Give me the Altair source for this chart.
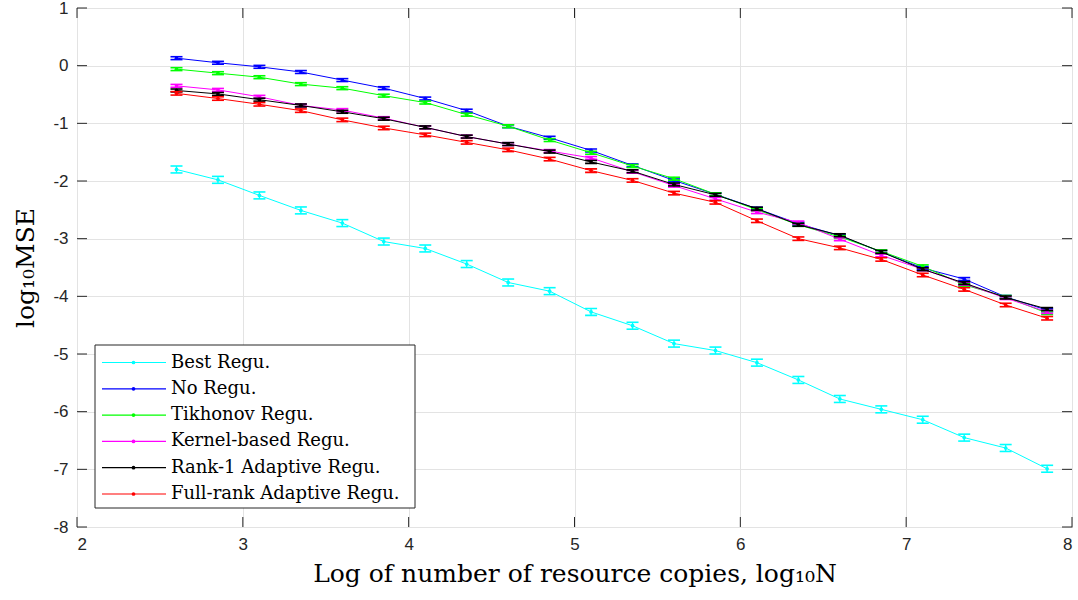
import altair as alt
import pandas as pd

# ---------------- data ----------------
x_vals = [2.6, 2.85, 3.1, 3.35, 3.6, 3.85, 4.1, 4.35, 4.6, 4.85, 5.1,
          5.35, 5.6, 5.85, 6.1, 6.35, 6.6, 6.85, 7.1, 7.35, 7.6, 7.85]

best_regu = [-1.80, -1.98, -2.25, -2.51, -2.73, -3.05, -3.17, -3.44, -3.76, -3.91, -4.27,
             -4.51, -4.82, -4.94, -5.15, -5.45, -5.78, -5.96, -6.14, -6.45, -6.63, -6.99]
no_regu = [0.13, 0.05, -0.02, -0.11, -0.25, -0.39, -0.57, -0.78, -1.05, -1.25, -1.47,
           -1.73, -1.99, -2.23, -2.48, -2.74, -2.95, -3.23, -3.51, -3.70, -4.01, -4.24]
tikhonov_regu = [-0.06, -0.13, -0.20, -0.32, -0.39, -0.52, -0.64, -0.85, -1.05, -1.29, -1.51,
                 -1.74, -1.96, -2.23, -2.50, -2.76, -2.97, -3.22, -3.48, -3.80, -4.01, -4.29]
kernel_regu = [-0.35, -0.42, -0.54, -0.69, -0.77, -0.91, -1.07, -1.23, -1.36, -1.48, -1.60,
               -1.84, -2.08, -2.31, -2.54, -2.72, -3.01, -3.29, -3.53, -3.78, -4.03, -4.27]
rank1_regu = [-0.43, -0.49, -0.59, -0.69, -0.80, -0.92, -1.07, -1.23, -1.36, -1.49, -1.67,
              -1.83, -2.06, -2.24, -2.48, -2.76, -2.94, -3.23, -3.53, -3.77, -4.02, -4.22]
fullrank_regu = [-0.48, -0.57, -0.67, -0.78, -0.94, -1.08, -1.20, -1.33, -1.46, -1.62, -1.82,
                 -1.99, -2.21, -2.37, -2.69, -3.00, -3.16, -3.36, -3.63, -3.88, -4.15, -4.38]

series_names = ["Best Regu.", "No Regu.", "Tikhonov Regu.", "Kernel-based Regu.",
                "Rank-1 Adaptive Regu.", "Full-rank Adaptive Regu."]
series_values = [best_regu, no_regu, tikhonov_regu, kernel_regu, rank1_regu, fullrank_regu]
series_errors = [0.06, 0.025, 0.025, 0.025, 0.025, 0.03]
series_colors = ["#00FFFF", "#0000FF", "#00FF00", "#FF00FF", "#000000", "#FF0000"]

x_ticks = [2, 3, 4, 5, 6, 7, 8]
y_ticks = [-8, -7, -6, -5, -4, -3, -2, -1, 0, 1]

# ---------------- build tables ----------------
rows = []
for name, vals, err in zip(series_names, series_values, series_errors):
    for xv, yv in zip(x_vals, vals):
        rows.append({"series": name, "x": xv, "y": yv, "lo": yv - err, "hi": yv + err})
df = pd.DataFrame(rows)

leg = pd.DataFrame({"series": series_names, "idx": list(range(len(series_names))),
                    "col": series_colors})

W, H = 995, 519
AX = "#262626"
SERIF = "DejaVu Serif"

xscale = alt.Scale(domain=[2, 8], nice=False, zero=False)
yscale = alt.Scale(domain=[-8, 1], nice=False, zero=False)

xaxis = alt.Axis(values=x_ticks, labelExpr="'' + datum.value",
                 title="Log of number of resource copies, log₁₀N",
                 ticks=False, domain=False, labelPadding=9, titlePadding=9)
yaxis = alt.Axis(values=y_ticks, labelExpr="'' + datum.value", title="log₁₀MSE",
                 ticks=False, domain=False, labelPadding=9, titlePadding=14)

base = alt.Chart(df)

layers = []
# grid / axes carrier
layers.append(
    base.mark_point(opacity=0).encode(
        x=alt.X("x:Q", scale=xscale, axis=xaxis),
        y=alt.Y("y:Q", scale=yscale, axis=yaxis),
    )
)

for name, col in zip(series_names, series_colors):
    sb = base.transform_filter(alt.datum.series == name)
    X = alt.X("x:Q", scale=xscale)
    layers.append(sb.mark_line(color=col, strokeWidth=1).encode(x=X, y=alt.Y("y:Q", scale=yscale)))
    layers.append(sb.mark_rule(color=col, strokeWidth=1.3).encode(
        x=X, y=alt.Y("lo:Q", scale=yscale), y2="hi:Q"))
    layers.append(sb.mark_tick(color=col, orient="horizontal", size=12, thickness=1.6, opacity=1).encode(
        x=X, y=alt.Y("lo:Q", scale=yscale)))
    layers.append(sb.mark_tick(color=col, orient="horizontal", size=12, thickness=1.6, opacity=1).encode(
        x=X, y=alt.Y("hi:Q", scale=yscale)))
    layers.append(sb.mark_circle(color=col, size=14, opacity=1).encode(
        x=X, y=alt.Y("y:Q", scale=yscale)))

# inward ticks on all four sides
xt = alt.Chart(pd.DataFrame({"t": x_ticks}))
yt = alt.Chart(pd.DataFrame({"t": y_ticks}))
layers.append(xt.mark_rule(color=AX, strokeWidth=1).encode(
    x=alt.X("t:Q", scale=xscale), y=alt.value(H), y2=alt.value(H - 10)))
layers.append(xt.mark_rule(color=AX, strokeWidth=1).encode(
    x=alt.X("t:Q", scale=xscale), y=alt.value(0), y2=alt.value(10)))
layers.append(yt.mark_rule(color=AX, strokeWidth=1).encode(
    y=alt.Y("t:Q", scale=yscale), x=alt.value(0), x2=alt.value(10)))
layers.append(yt.mark_rule(color=AX, strokeWidth=1).encode(
    y=alt.Y("t:Q", scale=yscale), x=alt.value(W), x2=alt.value(W - 10)))

# legend box
box = alt.Chart(alt.Data(values=[{"a": 1}])).mark_rect(
    fill="white", stroke=AX, strokeWidth=1).encode(
    x=alt.value(18), x2=alt.value(338), y=alt.value(337), y2=alt.value(500))
layers.append(box)

lb = alt.Chart(leg).transform_calculate(py="354.5 + datum.idx * 26.3")
PY = alt.Y("py:Q", scale=None, axis=None)
layers.append(lb.mark_rule(strokeWidth=1.2).encode(
    x=alt.value(25), x2=alt.value(89), y=PY, color=alt.Color("col:N", scale=None, legend=None)))
layers.append(lb.mark_circle(size=14, opacity=1).encode(
    x=alt.value(56.5), y=PY, color=alt.Color("col:N", scale=None, legend=None)))
layers.append(lb.mark_text(align="left", baseline="middle", font=SERIF,
                           fontSize=18, color="black").encode(
    x=alt.value(94), y=PY, text="series:N"))

chart = alt.layer(*layers).properties(
    width=W, height=H,
    autosize=alt.AutoSizeParams(type="none"),
    padding={"left": 77, "top": 8, "right": 6, "bottom": 73},
).configure_view(
    stroke=AX, strokeWidth=1
).configure_axis(
    labelFont="Liberation Sans", labelFontSize=17, labelColor=AX,
    titleFont=SERIF, titleFontSize=25, titleFontWeight="normal", titleColor="black",
    gridColor="#e3e3e3", gridWidth=1, gridOpacity=1,
)

chart.save("out.html", embed_options={"renderer": "svg", "actions": False})
